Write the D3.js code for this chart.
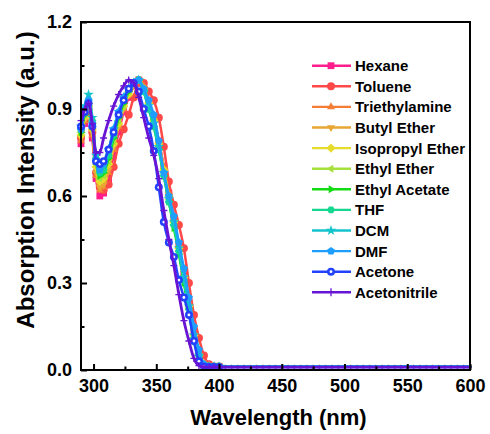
<!DOCTYPE html>
<html>
<head>
<meta charset="utf-8">
<script src="https://cdn.jsdelivr.net/npm/d3@7/dist/d3.min.js"></script>
<style>
  html, body { margin: 0; padding: 0; background: #fff; }
  svg { display: block; font-family: "Liberation Sans", Arial, sans-serif; font-weight: bold; }
</style>
</head>
<body>
<svg id="chart" width="490" height="434"></svg>
<script>
// Normalised UV-Vis absorption spectra in twelve solvents
const solvents = ["Hexane", "Toluene", "Triethylamine", "Butyl Ether", "Isopropyl Ether",
  "Ethyl Ether", "Ethyl Acetate", "THF", "DCM", "DMF", "Acetone", "Acetonitrile"];

const colors = ["#ff1c8c", "#ff4848", "#f47c34", "#e8a634", "#e6dc2c", "#a6e03c",
  "#14dc14", "#14d890", "#14c4cc", "#1e9eff", "#2242ff", "#6814d4"];

const markers = ["square", "circle", "triangleUp", "triangleDown", "diamond", "triangleLeft",
  "triangleRight", "hexagon", "star", "pentagon", "ringDot", "plus"];

// wavelengths (nm) of the band region
const wavelengths = [290, 293, 296, 299, 302, 305, 308, 312, 316, 320, 324, 328, 332, 336,
  340, 344, 348, 352, 356, 360, 364, 368, 372, 376, 380, 384, 388, 392, 396, 400];

const hexane        = [0.78,0.85,0.89,0.80,0.66,0.60,0.61,0.66,0.74,0.82,0.89,0.94,0.98,1.00,0.98,0.93,0.87,0.79,0.70,0.61,0.52,0.43,0.33,0.23,0.13,0.06,0.02,0.012,0.012,0.012];
const toluene       = [0.80,0.86,0.90,0.82,0.68,0.63,0.62,0.64,0.70,0.78,0.83,0.88,0.94,0.99,0.99,0.96,0.93,0.87,0.77,0.65,0.57,0.50,0.42,0.30,0.19,0.11,0.05,0.02,0.012,0.012];
const triethylamine = [0.79,0.86,0.90,0.81,0.67,0.62,0.63,0.68,0.76,0.84,0.90,0.95,0.98,1.00,0.98,0.93,0.87,0.79,0.70,0.61,0.52,0.43,0.33,0.23,0.13,0.06,0.02,0.012,0.012,0.012];
const butylEther    = [0.80,0.87,0.91,0.82,0.68,0.63,0.64,0.69,0.77,0.84,0.90,0.95,0.98,1.00,0.97,0.92,0.86,0.78,0.69,0.60,0.51,0.42,0.32,0.22,0.12,0.05,0.02,0.012,0.012,0.012];
const isopropylEther= [0.81,0.87,0.91,0.83,0.70,0.65,0.66,0.71,0.78,0.85,0.91,0.95,0.99,1.00,0.97,0.92,0.86,0.78,0.69,0.60,0.51,0.42,0.32,0.22,0.12,0.05,0.02,0.012,0.012,0.012];
const ethylEther    = [0.82,0.88,0.92,0.84,0.71,0.66,0.67,0.72,0.79,0.86,0.91,0.96,0.99,1.00,0.97,0.91,0.85,0.77,0.68,0.59,0.50,0.41,0.31,0.21,0.11,0.05,0.02,0.012,0.012,0.012];
const ethylAcetate  = [0.82,0.88,0.92,0.85,0.72,0.67,0.68,0.73,0.80,0.87,0.92,0.96,0.99,1.00,0.96,0.90,0.84,0.76,0.67,0.58,0.49,0.40,0.30,0.20,0.10,0.04,0.015,0.012,0.012,0.012];
const thf           = [0.83,0.89,0.93,0.86,0.73,0.68,0.69,0.74,0.81,0.88,0.93,0.97,0.99,1.00,0.96,0.90,0.84,0.76,0.67,0.58,0.50,0.41,0.31,0.21,0.11,0.05,0.015,0.012,0.012,0.012];
const dcm           = [0.84,0.91,0.95,0.87,0.74,0.70,0.71,0.76,0.83,0.89,0.94,0.97,0.99,1.00,0.96,0.91,0.85,0.77,0.68,0.59,0.51,0.42,0.32,0.22,0.12,0.05,0.015,0.012,0.012,0.012];
const dmf           = [0.83,0.90,0.93,0.85,0.72,0.69,0.71,0.76,0.83,0.89,0.94,0.97,0.99,1.00,0.97,0.93,0.88,0.79,0.68,0.60,0.53,0.44,0.35,0.25,0.15,0.07,0.02,0.012,0.012,0.012];
const acetone       = [0.84,0.89,0.92,0.84,0.72,0.71,0.72,0.76,0.82,0.88,0.93,0.97,0.99,0.96,0.90,0.84,0.755,0.63,0.51,0.44,0.39,0.31,0.25,0.19,0.10,0.03,0.012,0.01,0.01,0.01];
const acetonitrile  = [0.86,0.90,0.92,0.85,0.75,0.75,0.80,0.86,0.91,0.95,0.98,1.00,0.99,0.94,0.87,0.80,0.74,0.66,0.55,0.45,0.36,0.26,0.17,0.10,0.04,0.015,0.01,0.01,0.01,0.01];

// flat baseline beyond the band (400–600 nm)
const tailWavelengths = d3.range(405, 601, 5);
const tailLevel = [0.012, 0.012, 0.012, 0.012, 0.013, 0.013, 0.013, 0.012, 0.012, 0.011, 0.010, 0.010];

const seriesValues = [hexane, toluene, triethylamine, butylEther, isopropylEther, ethylEther,
  ethylAcetate, thf, dcm, dmf, acetone, acetonitrile];

const xTicks = [300, 350, 400, 450, 500, 550, 600];
const xMinorTicks = [325, 375, 425, 475, 525, 575];
const yTicks = [0.0, 0.3, 0.6, 0.9, 1.2];
const yMinorTicks = [0.15, 0.45, 0.75, 1.05];

const svg = d3.select("#chart");
const L = 81, R = 470, T = 22, B = 370;

const x = d3.scaleLinear().domain([290, 600]).range([L, R]);
const y = d3.scaleLinear().domain([0, 1.2]).range([B, T]);

// marker path builders
function polygon(n, r, rot) {
  const pts = d3.range(n).map(i => {
    const a = rot + i * 2 * Math.PI / n;
    return [r * Math.cos(a), r * Math.sin(a)];
  });
  return "M" + pts.map(p => p[0].toFixed(2) + "," + p[1].toFixed(2)).join("L") + "Z";
}
function markerPath(kind, r) {
  switch (kind) {
    case "square": return `M${-r*0.85},${-r*0.85}h${r*1.7}v${r*1.7}h${-r*1.7}Z`;
    case "circle": return d3.symbol(d3.symbolCircle, Math.PI * r * r)();
    case "ringDot": return d3.symbol(d3.symbolCircle, Math.PI * r * r)();
    case "triangleUp": return polygon(3, r * 1.15, -Math.PI / 2);
    case "triangleDown": return polygon(3, r * 1.15, Math.PI / 2);
    case "triangleLeft": return polygon(3, r * 1.15, Math.PI);
    case "triangleRight": return polygon(3, r * 1.15, 0);
    case "diamond": return polygon(4, r * 1.15, -Math.PI / 2);
    case "hexagon": return polygon(6, r, 0);
    case "pentagon": return polygon(5, r * 1.05, -Math.PI / 2);
    case "star": return d3.symbol(d3.symbolStar, r * r * 2.2)();
    case "plus": return `M${-r},0H${r}M0,${-r}V${r}`;
  }
}
function drawMarker(g, kind, color, r) {
  if (kind === "plus") {
    g.append("path").attr("d", markerPath(kind, r)).attr("stroke", color).attr("stroke-width", 1.3).attr("fill", "none");
  } else {
    g.append("path").attr("d", markerPath(kind, r)).attr("fill", color);
    if (kind === "ringDot") g.append("circle").attr("r", r * 0.35).attr("fill", "#fff");
  }
}

const line = d3.line().x(d => x(d[0])).y(d => y(d[1])).curve(d3.curveMonotoneX);

const plot = svg.append("g");
seriesValues.forEach((vals, i) => {
  const pts = wavelengths.map((w, j) => [w, vals[j]]);
  const tail = tailWavelengths.map(w => [w, tailLevel[i]]);
  const all = pts.concat(tail);
  const g = plot.append("g");
  g.append("path").datum(all).attr("d", line)
    .attr("fill", "none").attr("stroke", colors[i])
    .attr("stroke-width", i === 11 ? 2.8 : 2.5).attr("stroke-linejoin", "round");
  pts.forEach(p => {
    const m = g.append("g").attr("transform", `translate(${x(p[0])},${y(p[1])})`);
    drawMarker(m, markers[i], colors[i], i === 11 ? 3.5 : 4);
  });
  tail.forEach(p => {
    const m = g.append("g").attr("transform", `translate(${x(p[0])},${y(p[1])})`);
    drawMarker(m, markers[i], colors[i], 1.5);
  });
});

// axes with inward ticks
svg.append("g").attr("transform", `translate(0,${B})`)
  .call(d3.axisBottom(x).tickValues(xTicks).tickSizeInner(-6).tickSizeOuter(0).tickPadding(9).tickFormat(d3.format("d")));
svg.append("g").attr("transform", `translate(0,${B})`)
  .call(d3.axisBottom(x).tickValues(xMinorTicks).tickSizeInner(-3.5).tickSizeOuter(0).tickFormat(""));
svg.append("g").attr("transform", `translate(${L},0)`)
  .call(d3.axisLeft(y).tickValues(yTicks).tickSizeInner(-6).tickSizeOuter(0).tickPadding(9).tickFormat(d3.format(".1f")));
svg.append("g").attr("transform", `translate(${L},0)`)
  .call(d3.axisLeft(y).tickValues(yMinorTicks).tickSizeInner(-3.5).tickSizeOuter(0).tickFormat(""));
svg.selectAll(".domain").remove();
svg.selectAll(".tick line").attr("stroke", "#000").attr("stroke-width", 2);
svg.selectAll(".tick text").attr("font-family", "Liberation Sans, Arial, sans-serif")
  .attr("font-weight", "bold").attr("font-size", 18).attr("fill", "#000");

// frame
svg.append("rect").attr("x", L).attr("y", T).attr("width", R - L).attr("height", B - T)
  .attr("fill", "none").attr("stroke", "#000").attr("stroke-width", 2);

// axis titles
svg.append("text").attr("x", (L + R) / 2 + 3).attr("y", 425).attr("text-anchor", "middle")
  .attr("font-size", 22).text("Wavelength (nm)");
svg.append("text").attr("transform", "translate(34,180) rotate(-90)").attr("text-anchor", "middle")
  .attr("font-size", 24).text("Absorption Intensity (a.u.)");

// legend
const legend = svg.append("g");
solvents.forEach((name, i) => {
  const yy = 65.7 + i * 20.6;
  const g = legend.append("g").attr("transform", `translate(0,${yy})`);
  g.append("line").attr("x1", 312).attr("x2", 351).attr("y1", 0).attr("y2", 0)
    .attr("stroke", colors[i]).attr("stroke-width", 2.4);
  const m = g.append("g").attr("transform", "translate(331,0)");
  drawMarker(m, markers[i], colors[i], 4);
  g.append("text").attr("x", 355).attr("y", 5.4).attr("font-size", 15).attr("fill", "#000").text(name);
});
</script>
</body>
</html>
